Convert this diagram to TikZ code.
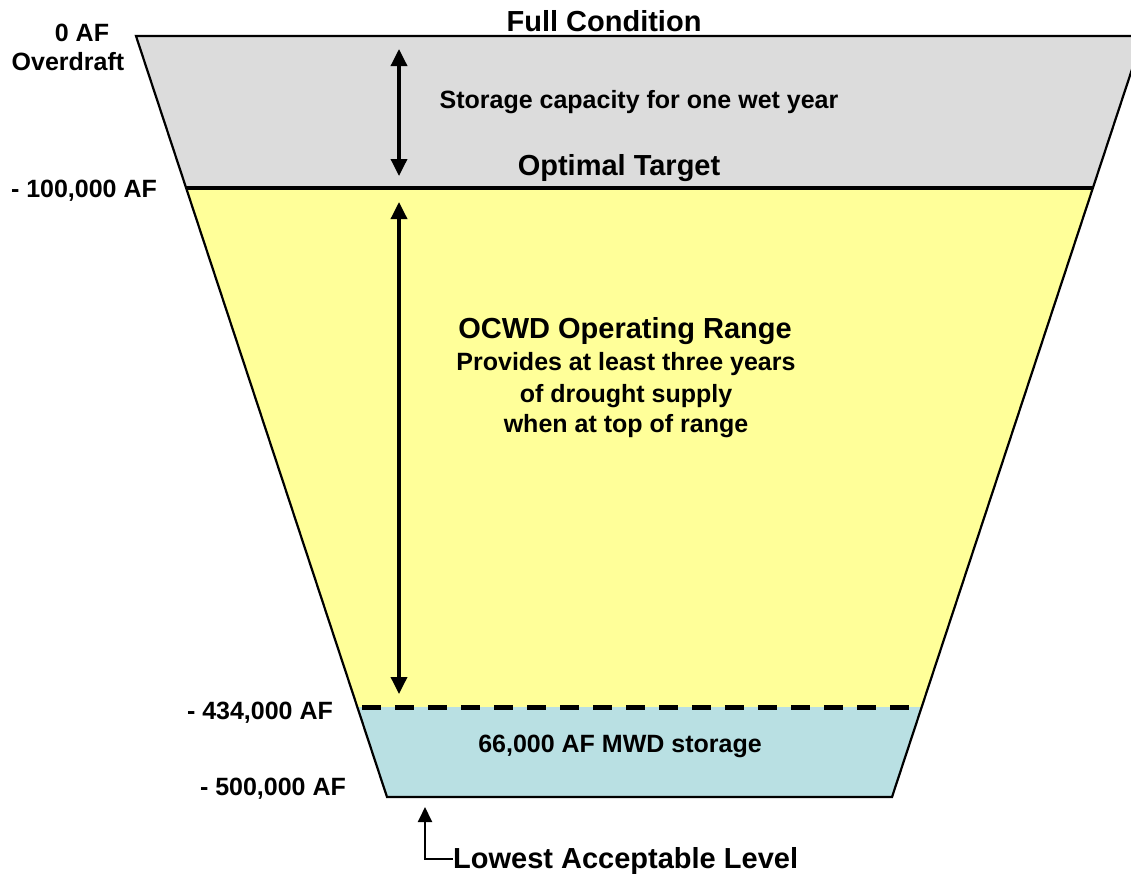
\documentclass[tikz,border=0pt]{standalone}
\usepackage{fontspec}
\setmainfont{Liberation Sans}
\usetikzlibrary{arrows.meta}
\definecolor{wetgrey}{HTML}{DCDCDC}
\definecolor{rangeyellow}{HTML}{FFFF99}
\definecolor{mwdblue}{HTML}{B9E0E3}
\begin{document}
\begin{tikzpicture}[x=1pt,y=-1pt,
  lbl/.style={font=\bfseries\fontsize{25}{30}\selectfont, inner sep=0pt, anchor=base},
  big/.style={font=\bfseries\fontsize{29}{34}\selectfont, inner sep=0pt, anchor=base},
  dblarrow/.style={line width=3.5pt, {Triangle[length=17pt,width=16pt]}-{Triangle[length=17pt,width=16pt]}},
  uparrow/.style={line width=2pt, -{Triangle[length=15pt,width=14pt]}},
  outline/.style={line width=2.2pt, line join=miter}]
\useasboundingbox (0,0) rectangle (1131,873);
\begin{scope}
\clip (0,0) rectangle (1131,873);
% trapezoid corners
\coordinate (TL) at (136,36);
\coordinate (TR) at (1143,36);
\coordinate (L1) at (186.2,188);
\coordinate (R1) at (1092.8,188);
\coordinate (L2) at (357.4,707);
\coordinate (R2) at (921.6,707);
\coordinate (BL) at (387,797);
\coordinate (BR) at (892,797);
\fill[wetgrey] (TL) -- (TR) -- (R1) -- (L1) -- cycle;
\fill[rangeyellow] (L1) -- (R1) -- (R2) -- (L2) -- cycle;
\fill[mwdblue] (L2) -- (R2) -- (BR) -- (BL) -- cycle;
\draw[outline] (TL) -- (TR) -- (BR) -- (BL) -- cycle;
\draw[line width=4pt] (L1) -- (R1);
\draw[line width=5pt, dash pattern=on 19pt off 14pt] (362,707) -- (915,707);
\end{scope}
% labels
\node[big] (full) at (604,31) {Full Condition};
\node[lbl] (wet) at (639,108) {Storage capacity for one wet year};
\node[big] (opt) at (619,175) {Optimal Target};
\node[big] (ocwd) at (625,338) {OCWD Operating Range};
\node[lbl] (prov1) at (626,370) {Provides at least three years};
\node[lbl] (prov2) at (626,402) {of drought supply};
\node[lbl] (prov3) at (626,432) {when at top of range};
\node[lbl] (mwd) at (620,752) {66,000 AF MWD storage};
\node[lbl] (zero) at (82,41) {0 AF};
\node[lbl] (over) at (68,70) {Overdraft};
\node[lbl] (l100) at (84,197) {- 100,000 AF};
\node[lbl] (l434) at (260,719) {- 434,000 AF};
\node[lbl] (l500) at (273,795) {- 500,000 AF};
\node[big, anchor=base west] (low) at (453,868) {Lowest Acceptable Level};
% arrows
\coordinate (a1t) at (399,49);
\coordinate (a1b) at (399,176);
\coordinate (a2t) at (399,202);
\coordinate (a2b) at (399,694);
\draw[dblarrow] (a1t) -- (a1b);
\draw[dblarrow] (a2t) -- (a2b);
\coordinate (lowtip) at (425,807);
\coordinate (lowcorner) at (425,859);
\draw[uparrow] (low.west |- lowcorner) -- (lowcorner) -- (lowtip);
\end{tikzpicture}
\end{document}
